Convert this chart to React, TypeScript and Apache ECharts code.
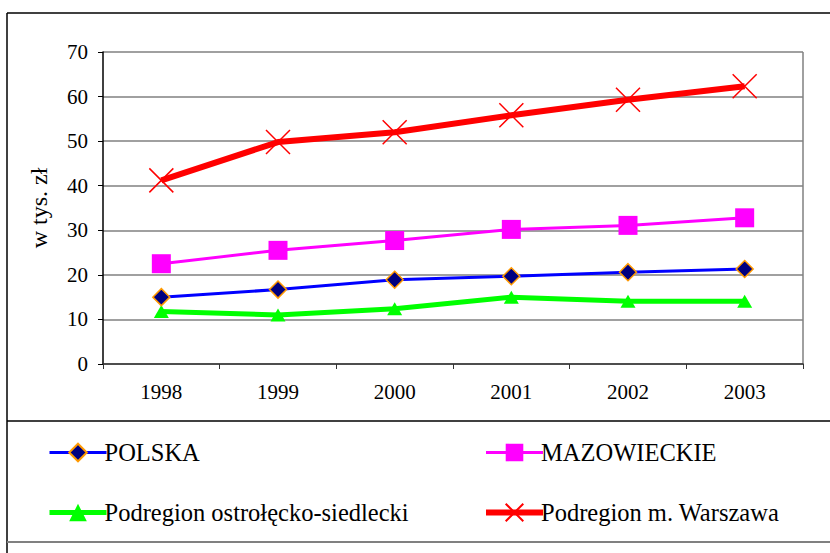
import React, { useEffect, useRef } from "react";
import * as echarts from "echarts";

const categories = ["1998", "1999", "2000", "2001", "2002", "2003"];
const polska = [15.0, 16.7, 18.9, 19.7, 20.6, 21.3];
const mazowieckie = [22.5, 25.5, 27.7, 30.2, 31.1, 32.8];
const ostroleckoSiedlecki = [11.8, 11.0, 12.4, 15.0, 14.1, 14.1];
const warszawa = [41.2, 49.8, 52.0, 55.8, 59.3, 62.3];
const yAxisName = "w tys. zł";

const FONT = "Liberation Serif";

export default function App() {
  const ref = useRef<HTMLDivElement>(null);
  useEffect(() => {
    if (!ref.current) return;
    const chart = echarts.init(ref.current, undefined, { renderer: "svg" });
    const legendCommon = {
      orient: "vertical",
      top: 435,
      itemWidth: 57,
      itemHeight: 22,
      itemGap: 35,
      textStyle: { color: "#000", fontSize: 24.5, fontFamily: FONT, padding: [0, 0, 0, -7] },
    };
    chart.setOption({
      animation: false,
      backgroundColor: "#ffffff",
      textStyle: { fontFamily: FONT },
      grid: { left: 103, right: 27, top: 52, bottom: 189, show: false },
      xAxis: {
        type: "category",
        data: categories,
        boundaryGap: true,
        axisLine: { lineStyle: { color: "#333333", width: 1.5 } },
        axisTick: { show: true, length: 5, inside: false, lineStyle: { color: "#333333" } },
        axisLabel: { color: "#000", fontSize: 21, fontFamily: FONT, margin: 17 },
        splitLine: { show: false },
      },
      yAxis: {
        type: "value",
        min: 0,
        max: 70,
        interval: 10,
        name: yAxisName,
        nameLocation: "middle",
        nameGap: 52,
        nameRotate: 90,
        nameTextStyle: { color: "#000", fontSize: 24, fontFamily: FONT },
        axisLine: { show: true, lineStyle: { color: "#000", width: 1.5 } },
        axisTick: { show: true, length: 5, lineStyle: { color: "#000" } },
        axisLabel: { color: "#000", fontSize: 21, fontFamily: FONT, margin: 15 },
        splitLine: { show: true, lineStyle: { color: "#808080", width: 1.5 } },
      },
      legend: [
        {
          ...legendCommon,
          left: 42,
          data: [
            { name: "POLSKA", lineStyle: { width: 3 } },
            { name: "Podregion ostrołęcko-siedlecki", lineStyle: { width: 5 } },
          ],
        },
        {
          ...legendCommon,
          left: 478,
          data: [
            { name: "MAZOWIECKIE", lineStyle: { width: 3 } },
            { name: "Podregion m. Warszawa", lineStyle: { width: 6 } },
          ],
        },
      ],
      graphic: [
        { type: "line", shape: { x1: 7, y1: 13, x2: 830, y2: 13 }, style: { stroke: "#000", lineWidth: 1.5 } },
        { type: "line", shape: { x1: 7, y1: 13, x2: 7, y2: 553 }, style: { stroke: "#000", lineWidth: 1.5 } },
        { type: "line", shape: { x1: 7, y1: 421, x2: 830, y2: 421 }, style: { stroke: "#000", lineWidth: 1.5 } },
        { type: "line", shape: { x1: 7, y1: 542, x2: 830, y2: 542 }, style: { stroke: "#808080", lineWidth: 2 } },
        { type: "line", shape: { x1: 803, y1: 52, x2: 803, y2: 364 }, style: { stroke: "#808080", lineWidth: 1.5 } },
      ],
      series: [
        {
          name: "POLSKA",
          type: "line",
          data: polska,
          symbol: "diamond",
          symbolSize: 17,
          lineStyle: { color: "#0000ff", width: 3 },
          itemStyle: { color: "#000080", borderColor: "#ff9900", borderWidth: 1.5 },
          z: 4,
        },
        {
          name: "MAZOWIECKIE",
          type: "line",
          data: mazowieckie,
          symbol: "rect",
          symbolSize: 19,
          lineStyle: { color: "#ff00ff", width: 3 },
          itemStyle: { color: "#ff00ff" },
          z: 3,
        },
        {
          name: "Podregion ostrołęcko-siedlecki",
          type: "line",
          data: ostroleckoSiedlecki,
          symbol: "triangle",
          symbolSize: [15, 13],
          lineStyle: { color: "#00ff00", width: 5 },
          itemStyle: { color: "#00ff00" },
          z: 2,
        },
        {
          name: "Podregion m. Warszawa",
          type: "line",
          data: warszawa,
          symbol: "path://M0,0 L10,10 M10,0 L0,10",
          symbolSize: 24,
          lineStyle: { color: "#ff0000", width: 6 },
          itemStyle: { color: "#ff0000", borderColor: "#ff0000", borderWidth: 1.5 },
          z: 5,
        },
      ],
    });
    return () => chart.dispose();
  }, []);
  return <div ref={ref} style={{ width: 830, height: 553, position: "absolute", left: 0, top: 0 }} />;
}
